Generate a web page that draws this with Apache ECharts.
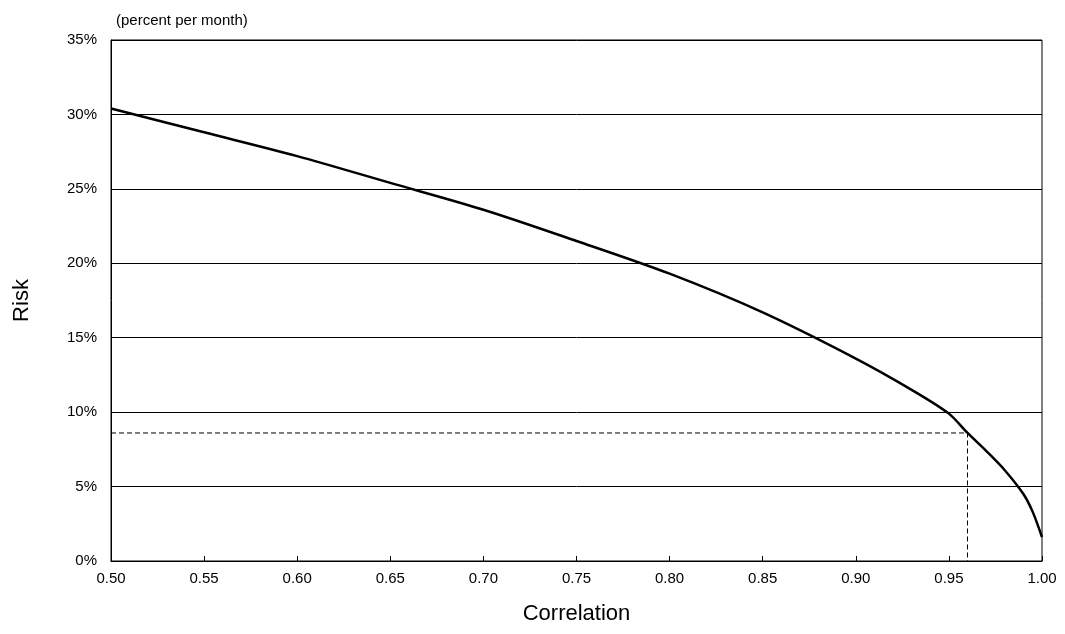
<!DOCTYPE html>
<html>
<head>
<meta charset="utf-8">
<script src="https://cdn.jsdelivr.net/npm/echarts@6/dist/echarts.min.js"></script>
<style>html,body{margin:0;padding:0;background:#fff}#chart{width:1065px;height:634px}</style>
</head>
<body>
<div id="chart"></div>
<script>
// correlation vs risk
var correlation = [0.50, 0.55, 0.60, 0.65, 0.70, 0.75, 0.80, 0.85, 0.90, 0.93, 0.95, 0.96, 0.97, 0.98, 0.99, 0.995, 1.00];
var risk = [30.4, 28.8, 27.2, 25.4, 23.6, 21.5, 19.3, 16.7, 13.6, 11.5, 9.9, 8.6, 7.4, 6.1, 4.5, 3.3, 1.6];
// dashed guide at 0.96
var guideX = [0.50, 0.96, 0.96];
var guideY = [8.6, 8.6, 0];

var font = 'Arial, "Liberation Sans", sans-serif';
var myChart = echarts.init(document.getElementById('chart'));

var option = {
	animation: false,
	title: {
		text: '(percent per month)',
		left: 111, top: 8,
		textStyle: { fontFamily: font, fontSize: 15, fontWeight: 'normal', color: '#000' }
	},
	grid: { left: 111, right: 23, top: 40, bottom: 73, show: true, borderColor: '#000', borderWidth: 1 },
	xAxis: {
		type: 'value', min: 0.5, max: 1, interval: 0.05,
		name: 'Correlation', nameLocation: 'middle', nameGap: 42,
		nameTextStyle: { fontFamily: font, fontSize: 22, color: '#000' },
		axisLine: { lineStyle: { color: '#000' } },
		axisTick: { show: true, inside: true, length: 5, lineStyle: { color: '#000' } },
		axisLabel: { fontFamily: font, fontSize: 15, color: '#000', margin: 10,
			formatter: function (v) { return v.toFixed(2); } },
		splitLine: { show: false }
	},
	yAxis: {
		type: 'value', min: 0, max: 35, interval: 5,
		name: 'Risk', nameLocation: 'middle', nameGap: 78, nameRotate: 90,
		nameTextStyle: { fontFamily: font, fontSize: 22, color: '#000' },
		axisLine: { show: true, lineStyle: { color: '#000' } },
		axisTick: { show: false },
		axisLabel: { fontFamily: font, fontSize: 15, color: '#000', margin: 14, formatter: '{value}%' },
		splitLine: { lineStyle: { color: '#000', width: 1 } }
	},
	series: [{
		type: 'line', smooth: 0.3, symbol: 'none',
		data: correlation.map(function (c, i) { return [c, risk[i]]; }),
		lineStyle: { color: '#000', width: 2.5 }
	}, {
		type: 'line', symbol: 'none',
		data: guideX.map(function (c, i) { return [c, guideY[i]]; }),
		lineStyle: { color: '#000', width: 1, type: [5, 3] }
	}]
};
myChart.setOption(option);
</script>
</body>
</html>
